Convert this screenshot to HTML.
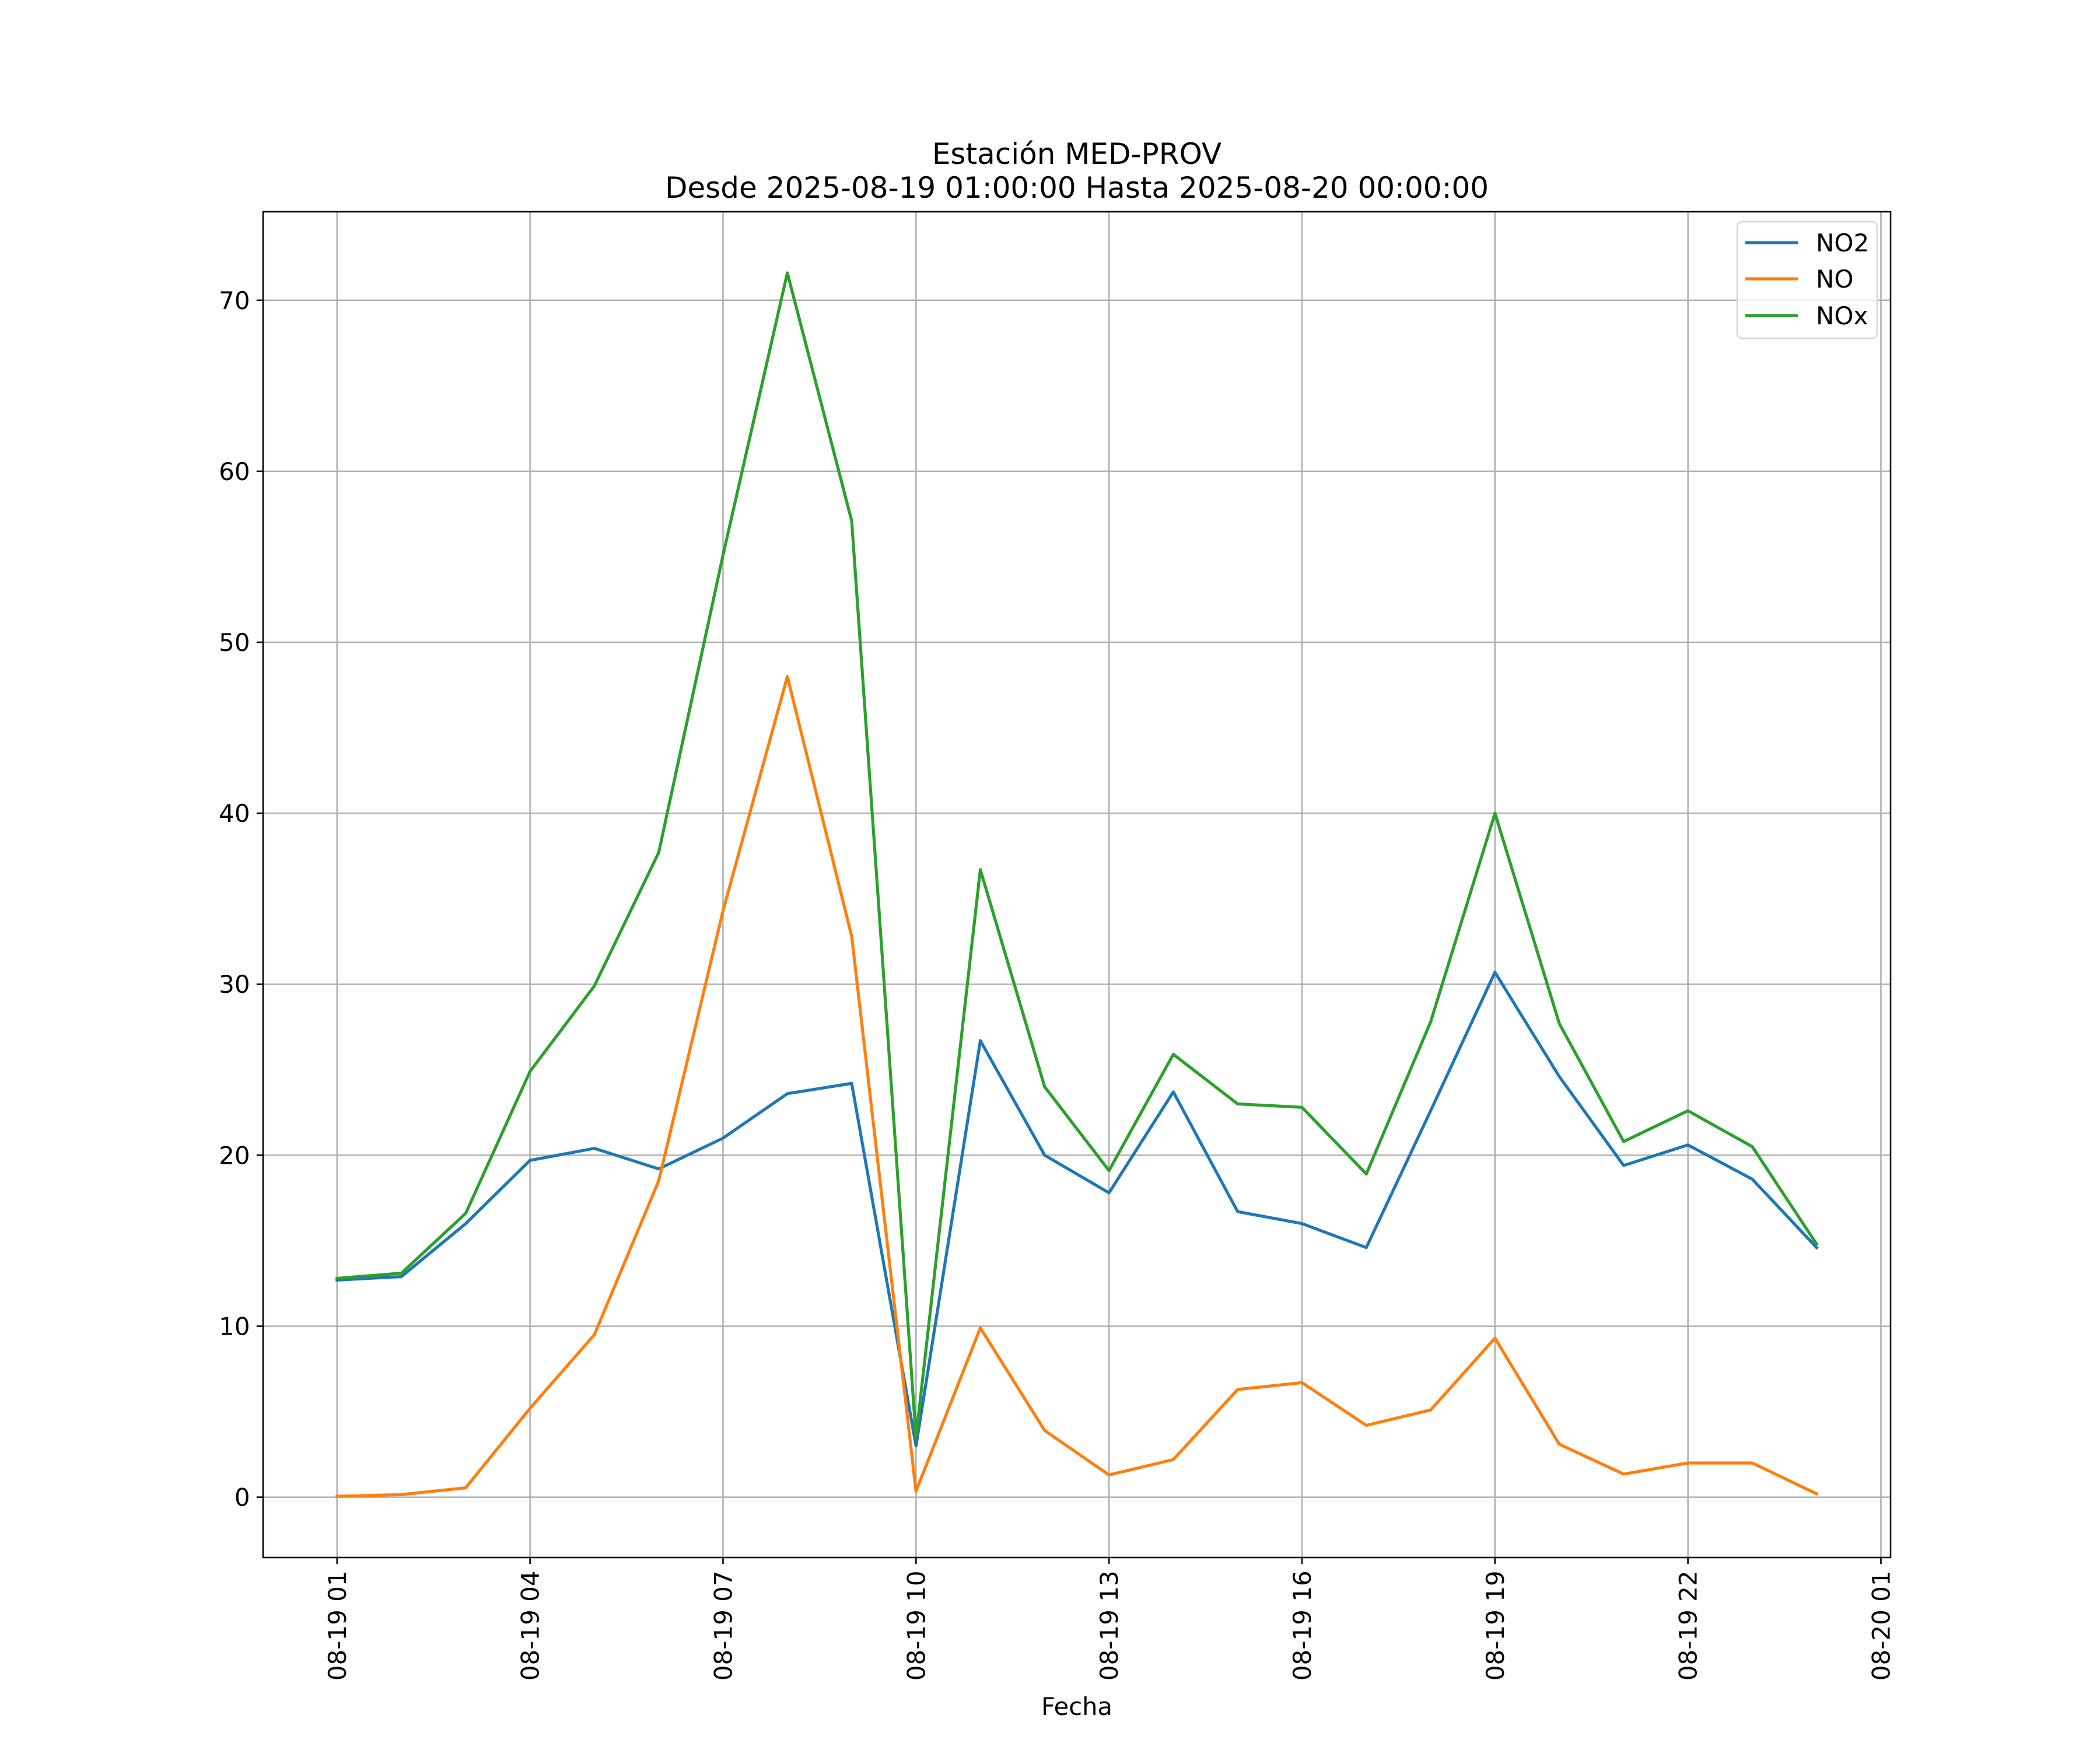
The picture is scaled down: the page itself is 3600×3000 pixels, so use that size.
<!DOCTYPE html>
<html><head><meta charset="utf-8"><style>html,body{margin:0;padding:0;background:#fff}svg{display:block}text{font-family:"DejaVu Sans","Liberation Sans",sans-serif}</style></head>
<body>
<svg id="chart" width="3600" height="3000" viewBox="0 0 3600 3000" xmlns="http://www.w3.org/2000/svg">
<rect width="3600" height="3000" fill="#fff"/>
<g id="grid"></g><g id="series"></g><g id="axes"></g>
<text x="1846" y="281" font-size="50" text-anchor="middle">Estación MED-PROV</text>
<text x="1846" y="339" font-size="50" text-anchor="middle">Desde 2025-08-19 01:00:00 Hasta 2025-08-20 00:00:00</text>
<text x="1846" y="2940" font-size="41.6" text-anchor="middle">Fecha</text>
<g>
<rect x="2978" y="380" width="240" height="200" rx="9" fill="#fff" fill-opacity="0.8" stroke="#d5d5d5" stroke-width="2.5"/>
<line x1="2992" y1="416" x2="3082" y2="416" stroke="#1f77b4" stroke-width="5.2"/>
<text x="3113" y="431" font-size="42">NO2</text>
<line x1="2992" y1="478" x2="3082" y2="478" stroke="#ff7f0e" stroke-width="5.2"/>
<text x="3113" y="493" font-size="42">NO</text>
<line x1="2992" y1="541" x2="3082" y2="541" stroke="#2ca02c" stroke-width="5.2"/>
<text x="3113" y="556" font-size="42">NOx</text>
</g>
</svg>
<script>
const hours = [1,2,3,4,5,6,7,8,9,10,11,12,13,14,15,16,17,18,19,20,21,22,23,24];
const no2 = [12.7,12.9,16.0,19.7,20.4,19.2,21.0,23.6,24.2,3.0,26.7,20.0,17.8,23.7,16.7,16.0,14.6,22.6,30.7,24.6,19.4,20.6,18.6,14.6];
const no = [0.05,0.15,0.55,5.2,9.5,18.5,34.3,48.0,32.8,0.35,9.9,3.9,1.3,2.2,6.3,6.7,4.2,5.1,9.3,3.1,1.35,2.0,2.0,0.2];
const nox = [12.8,13.1,16.6,24.9,29.9,37.7,55.1,71.6,57.1,3.5,36.7,24.0,19.1,25.9,23.0,22.8,18.9,27.8,40.0,27.7,20.8,22.6,20.5,14.8];
const xTicks = [1,4,7,10,13,16,19,22,25];
const xTickLabels = ["08-19 01","08-19 04","08-19 07","08-19 10","08-19 13","08-19 16","08-19 19","08-19 22","08-20 01"];
const yTicks = [0,10,20,30,40,50,60,70];

const NS="http://www.w3.org/2000/svg";
const L=451,R=3241,T=363,B=2670;
const all=no2.concat(no,nox);
const ymin=Math.min(...all),ymax=Math.max(...all),yr=ymax-ymin;
const y0=ymin-0.05*yr,y1=ymax+0.05*yr;
const xr=hours[hours.length-1]-hours[0];
const x0=hours[0]-0.05*xr,x1=hours[hours.length-1]+0.05*xr;
const X=v=>L+(v-x0)/(x1-x0)*(R-L);
const Y=v=>B-(v-y0)/(y1-y0)*(B-T);
function mk(tag,attrs,parent){const e=document.createElementNS(NS,tag);for(const k in attrs)e.setAttribute(k,attrs[k]);parent.appendChild(e);return e;}
const grid=document.getElementById('grid'),axes=document.getElementById('axes'),ser=document.getElementById('series');
xTicks.forEach((h,i)=>{const x=X(h);
 const g=mk('line',{x1:x,x2:x,y1:T,y2:B,stroke:'#b0b0b0','stroke-width':2.56},grid);
 
 
 const t=mk('line',{x1:x,x2:x,y1:B,y2:B+11.2,stroke:'#000','stroke-width':2.56},axes);
 
 
 const lb=mk('text',{x:0,y:0,'font-size':42,'text-anchor':'end',transform:`translate(${x+15},${B+22.4}) rotate(-90)`},axes);
 lb.textContent=xTickLabels[i];
 
 
});
yTicks.forEach(v=>{const y=Y(v);
 const g=mk('line',{x1:L,x2:R,y1:y,y2:y,stroke:'#b0b0b0','stroke-width':2.56},grid);
 
 
 const t=mk('line',{x1:L-11.2,x2:L,y1:y,y2:y,stroke:'#000','stroke-width':2.56},axes);
 
 
 const lb=mk('text',{x:L-22.4,y:y+15,'font-size':42,'text-anchor':'end'},axes);
 lb.textContent=String(v);
 
 
});
const fr=mk('rect',{x:L,y:T,width:R-L,height:B-T,fill:'none',stroke:'#000','stroke-width':2.56},axes);


[[no2,'#1f77b4','no2-line'],[no,'#ff7f0e','no-line'],[nox,'#2ca02c','nox-line']].forEach(([d,c,n])=>{
 const p=mk('polyline',{points:d.map((v,i)=>X(hours[i])+','+Y(v)).join(' '),fill:'none',stroke:c,'stroke-width':5.2,'stroke-linejoin':'round','stroke-linecap':'square'},ser);
 
 
});
</script>
</body></html>
